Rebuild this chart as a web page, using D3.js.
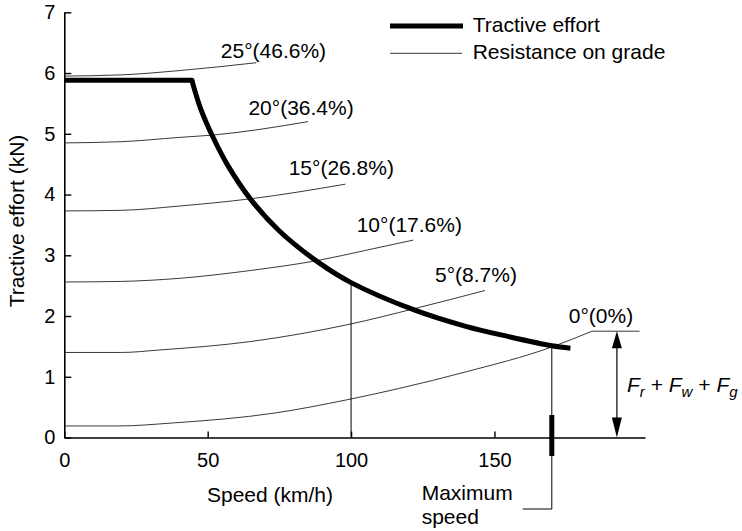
<!DOCTYPE html>
<html>
<head>
<meta charset="utf-8">
<script src="https://cdn.jsdelivr.net/npm/d3@7"></script>
<style>
  html, body { margin: 0; padding: 0; background: #fff; }
  svg { display: block; font-family: "Liberation Sans", Arial, Helvetica, sans-serif; }
</style>
</head>
<body>
<svg id="chart" width="742" height="531"></svg>
<script>
// ---------------- data ----------------
const speedTicks = [0, 50, 100, 150];
const forceTicks = [0, 1, 2, 3, 4, 5, 6, 7];

const tractiveSpeed = [0, 44.5, 47.5, 52, 57, 65, 75, 89, 100, 122, 140, 155, 170, 176.5];
const tractiveForce = [5.88, 5.88, 5.42, 4.93, 4.48, 3.92, 3.40, 2.87, 2.55, 2.10, 1.83, 1.66, 1.51, 1.47];

const gradeLabels = ["0°(0%)", "5°(8.7%)", "10°(17.6%)", "15°(26.8%)", "20°(36.4%)", "25°(46.6%)"];
const gradeSpeeds = [
  [0, 19, 38, 73, 98.5, 117, 140, 170, 184],
  [0, 20, 33, 65, 100, 122, 146.7],
  [0, 20, 40, 65, 89, 105, 121.7],
  [0, 20, 40, 65, 98],
  [0, 20, 40, 52, 85],
  [0, 20, 40, 67]
];
const gradeForces = [
  [0.19, 0.19, 0.24, 0.40, 0.62, 0.81, 1.08, 1.49, 1.75],
  [1.40, 1.40, 1.44, 1.58, 1.87, 2.12, 2.42],
  [2.56, 2.57, 2.62, 2.75, 2.92, 3.08, 3.25],
  [3.73, 3.74, 3.81, 3.93, 4.17],
  [4.85, 4.87, 4.94, 4.98, 5.20],
  [5.95, 5.97, 6.04, 6.17]
];

const markSpeeds = [100, 170];       // vertical drop lines
const markForces = [2.55, 1.51];
const maxSpeed = 170;
const leaderEndSpeed = 200.6;        // end of the 0° leader line
const arrowSpeed = 192.7;            // speed at which the Fr+Fw+Fg arrow sits

// ---------------- layout ----------------
const svg = d3.select("#chart");
const x = d3.scaleLinear().domain([0, 202.5]).range([64.3, 645]);
const y = d3.scaleLinear().domain([0, 7]).range([437.5, 12.3]);

const labelDx = [9, -9, -4, -4, -7, 17];
const labelDy = [-8, -9, -8, -9, -7, -5];

// axes
const xAxis = d3.axisBottom(x).tickValues(speedTicks).tickFormat(d3.format("d"))
  .tickSizeInner(-6).tickSizeOuter(0).tickPadding(15);
const yAxis = d3.axisLeft(y).tickValues(forceTicks).tickFormat(d3.format("d"))
  .tickSizeInner(-7).tickSizeOuter(0).tickPadding(9);

const gx = svg.append("g").attr("transform", `translate(0,${y(0)})`).call(xAxis);
const gy = svg.append("g").attr("transform", `translate(${x(0)},0)`).call(yAxis);
[gx, gy].forEach(g => {
  g.select(".domain").attr("stroke", "#000").attr("stroke-width", 1.6);
  g.selectAll(".tick line").attr("stroke", "#000").attr("stroke-width", 1.4);
  g.selectAll(".tick text").attr("fill", "#000").attr("font-size", 20)
    .attr("font-family", "'Liberation Sans', Arial, sans-serif");
});

svg.append("text").attr("x", 270).attr("y", 502).attr("text-anchor", "middle")
  .attr("font-size", 21).text("Speed (km/h)");
svg.append("text").attr("transform", "translate(24,221) rotate(-90)").attr("text-anchor", "middle")
  .attr("font-size", 21).text("Tractive effort (kN)");

// grade resistance curves
const line = d3.line().x(d => x(d[0])).y(d => y(d[1])).curve(d3.curveMonotoneX);
gradeSpeeds.forEach((sp, i) => {
  const pts = sp.map((s, j) => [s, gradeForces[i][j]]);
  svg.append("path").attr("d", line(pts)).attr("fill", "none")
    .attr("stroke", "#222").attr("stroke-width", 0.9);
  const last = pts[pts.length - 1];
  svg.append("text").attr("x", x(last[0]) + labelDx[i]).attr("y", y(last[1]) + labelDy[i])
    .attr("text-anchor", "middle").attr("font-size", 21).text(gradeLabels[i]);
});

// leader of 0° curve
const g0 = gradeForces[0][gradeForces[0].length - 1];
const s0 = gradeSpeeds[0][gradeSpeeds[0].length - 1];
svg.append("line").attr("x1", x(s0)).attr("x2", x(leaderEndSpeed)).attr("y1", y(g0)).attr("y2", y(g0))
  .attr("stroke", "#222").attr("stroke-width", 0.9);

// drop lines at 100 and max speed
markSpeeds.forEach((s, i) => {
  svg.append("line").attr("x1", x(s)).attr("x2", x(s)).attr("y1", y(markForces[i])).attr("y2", y(0))
    .attr("stroke", "#000").attr("stroke-width", 1);
});
// max speed extension + callout
svg.append("path")
  .attr("d", `M${x(maxSpeed)},${y(0)} L${x(maxSpeed)},509 L522.7,509`)
  .attr("fill", "none").attr("stroke", "#000").attr("stroke-width", 1);
svg.append("line").attr("x1", x(maxSpeed)).attr("x2", x(maxSpeed)).attr("y1", 415).attr("y2", 456)
  .attr("stroke", "#000").attr("stroke-width", 5);
svg.append("text").attr("x", 421.7).attr("y", 500).attr("font-size", 21).text("Maximum");
svg.append("text").attr("x", 421.7).attr("y", 524).attr("font-size", 21).text("speed");

// tractive effort curve
const tPts = tractiveSpeed.map((s, i) => [s, tractiveForce[i]]);
const lin = d3.line().x(d => x(d[0])).y(d => y(d[1]));
const smooth = d3.line().x(d => x(d[0])).y(d => y(d[1])).curve(d3.curveCatmullRom.alpha(0.5));
svg.append("path").attr("d", lin(tPts.slice(0, 2))).attr("fill", "none")
  .attr("stroke", "#000").attr("stroke-width", 5).attr("stroke-linecap", "butt");
svg.append("path").attr("d", smooth(tPts.slice(1))).attr("fill", "none")
  .attr("stroke", "#000").attr("stroke-width", 5).attr("stroke-linejoin", "round").attr("stroke-linecap", "butt");
svg.append("circle").attr("cx", x(tPts[1][0])).attr("cy", y(tPts[1][1])).attr("r", 2.5).attr("fill", "#000");

// Fr + Fw + Fg arrow
const ax = x(arrowSpeed);
const ytop = y(g0), ybot = y(0);
svg.append("line").attr("x1", ax).attr("x2", ax).attr("y1", ytop + 12).attr("y2", ybot - 12)
  .attr("stroke", "#000").attr("stroke-width", 1.2);
svg.append("path").attr("d", `M${ax},${ytop} L${ax - 5},${ytop + 17} L${ax + 5},${ytop + 17} Z`).attr("fill", "#000");
svg.append("path").attr("d", `M${ax},${ybot} L${ax - 5},${ybot - 20} L${ax + 5},${ybot - 20} Z`).attr("fill", "#000");

const ft = svg.append("text").attr("x", 627).attr("y", 392).attr("font-size", 21).attr("font-style", "italic");
ft.append("tspan").text("F");
ft.append("tspan").attr("font-size", 15).attr("dy", 5).text("r");
ft.append("tspan").attr("font-style", "normal").attr("dy", -5).text(" + ");
ft.append("tspan").text("F");
ft.append("tspan").attr("font-size", 15).attr("dy", 5).text("w");
ft.append("tspan").attr("font-style", "normal").attr("dy", -5).text(" + ");
ft.append("tspan").text("F");
ft.append("tspan").attr("font-size", 15).attr("dy", 5).text("g");

// legend
svg.append("line").attr("x1", 390).attr("x2", 463).attr("y1", 26).attr("y2", 26)
  .attr("stroke", "#000").attr("stroke-width", 5);
svg.append("line").attr("x1", 390).attr("x2", 462).attr("y1", 53.3).attr("y2", 53.3)
  .attr("stroke", "#222").attr("stroke-width", 0.9);
svg.append("text").attr("x", 472.7).attr("y", 32.3).attr("font-size", 21).text("Tractive effort");
svg.append("text").attr("x", 472.7).attr("y", 59.3).attr("font-size", 21).text("Resistance on grade");
</script>
</body>
</html>
